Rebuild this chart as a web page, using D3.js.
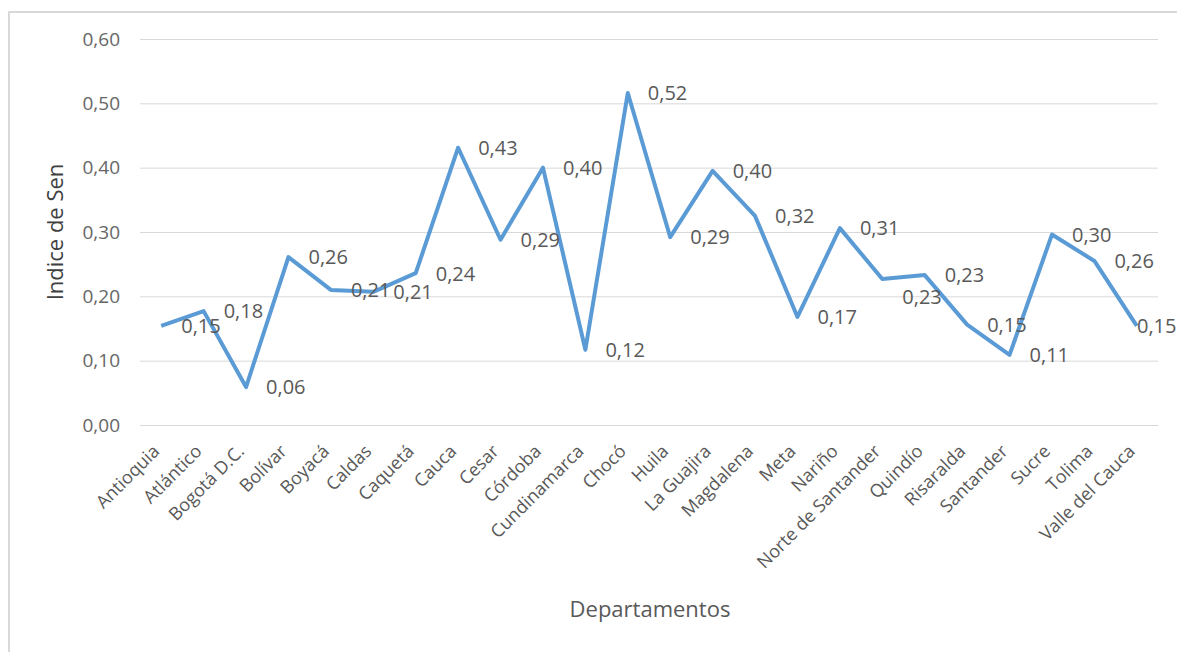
<!DOCTYPE html>
<html>
<head>
<meta charset="UTF-8">
<title>Indice de Sen por departamento</title>
<script src="https://d3js.org/d3.v7.min.js"></script>
<style>
  body { margin: 0; background: #fff; }
  text { font-family: "Open Sans", sans-serif; fill: #595959; }
</style>
</head>
<body>
<script>

/* Data */
var departamentos = ['Antioquia', 'Atlántico', 'Bogotá D.C.', 'Bolívar', 'Boyacá', 'Caldas',
  'Caquetá', 'Cauca', 'Cesar', 'Córdoba', 'Cundinamarca', 'Chocó', 'Huila', 'La Guajira',
  'Magdalena', 'Meta', 'Nariño', 'Norte de Santander', 'Quindío', 'Risaralda', 'Santander',
  'Sucre', 'Tolima', 'Valle del Cauca']
var indice = [0.154, 0.177, 0.059, 0.261, 0.210, 0.207, 0.236, 0.431, 0.288, 0.400, 0.117, 0.516,
  0.292, 0.395, 0.325, 0.168, 0.306, 0.227, 0.233, 0.156, 0.109, 0.296, 0.255, 0.154]
// labels as printed on the chart
var etiquetas = ['0,15', '0,18', '0,06', '0,26', '0,21', '0,21', '0,24', '0,43', '0,29', '0,40',
  '0,12', '0,52', '0,29', '0,40', '0,32', '0,17', '0,31', '0,23', '0,23', '0,15', '0,11',
  '0,30', '0,26', '0,15']
var yTicks = [0, 0.1, 0.2, 0.3, 0.4, 0.5, 0.6]

var W = 1177, H = 652
var plot = { left: 140, right: 1158, top: 39, bottom: 425 }

var svg = d3.select('body').append('svg')
  .attr('width', W)
  .attr('height', H)

// chart frame
svg.append('rect')
  .attr('x', 9).attr('y', 12)
  .attr('width', W + 20).attr('height', H + 20)
  .style('fill', 'none')
  .style('stroke', '#d9d9d9')
  .style('stroke-width', 2)

var x = d3.scaleBand()
  .domain(departamentos)
  .range([plot.left, plot.right])
var y = d3.scaleLinear()
  .domain([0, 0.6])
  .range([plot.bottom, plot.top])

var fmt = function(v) { return d3.format('.2f')(v).replace('.', ',') }

/* gridlines + y labels */
var yAxis = d3.axisLeft(y)
  .tickValues(yTicks)
  .tickSize(-(plot.right - plot.left))
  .tickPadding(20)
  .tickFormat(fmt)
var gy = svg.append('g')
  .attr('transform', 'translate(' + plot.left + ',0)')
  .call(yAxis)
gy.select('.domain').remove()
gy.selectAll('line').style('stroke', '#d9d9d9').style('stroke-width', 1)
gy.selectAll('text')
  .style('font-size', '19px')
  .style('fill', '#666')
  .style('font-family', '"Open Sans", sans-serif')

/* x labels, rotated (tick groups are already centred on each band) */
var xAxis = d3.axisBottom(x).tickSize(0).tickPadding(0)
var gx = svg.append('g')
  .attr('transform', 'translate(0,' + plot.bottom + ')')
  .call(xAxis)
gx.select('.domain').remove()
gx.selectAll('text')
  .attr('x', 0).attr('y', 0).attr('dy', null)
  .attr('transform', 'translate(-4,24) rotate(-45)')
  .style('text-anchor', 'end')
  .attr('dominant-baseline', 'middle')
  .style('font-size', '18px')
  .style('fill', '#595959')
  .style('font-family', '"Open Sans", sans-serif')

/* line */
var cx = function(d, i) { return x(departamentos[i]) + x.bandwidth() / 2 }
var line = d3.line()
  .x(cx)
  .y(function(d) { return y(d) })
svg.append('path')
  .datum(indice)
  .attr('d', line)
  .style('fill', 'none')
  .style('stroke', '#5b9bd5')
  .style('stroke-width', 4)
  .style('stroke-linejoin', 'round')

/* data labels, right of each point; kept inside the chart, Norte label nudged down */
svg.append('g').selectAll('text')
  .data(indice)
  .enter()
  .append('text')
  .attr('x', function(d, i) { return Math.min(cx(d, i) + 20, W - 40) })
  .attr('y', function(d, i) { return y(d) + (departamentos[i] === 'Norte de Santander' ? 20 : 2) })
  .attr('dominant-baseline', 'middle')
  .style('font-size', '20px')
  .text(function(d, i) { return etiquetas[i] })

/* axis titles */
svg.append('text')
  .attr('transform', 'translate(57,232) rotate(-90)')
  .style('text-anchor', 'middle')
  .attr('dominant-baseline', 'middle')
  .style('font-size', '22px')
  .style('fill', '#404040')
  .text('Indice de Sen')
svg.append('text')
  .attr('x', 650).attr('y', 611)
  .style('text-anchor', 'middle')
  .attr('dominant-baseline', 'middle')
  .style('font-size', '22px')
  .text('Departamentos')

</script>
</body>
</html>
